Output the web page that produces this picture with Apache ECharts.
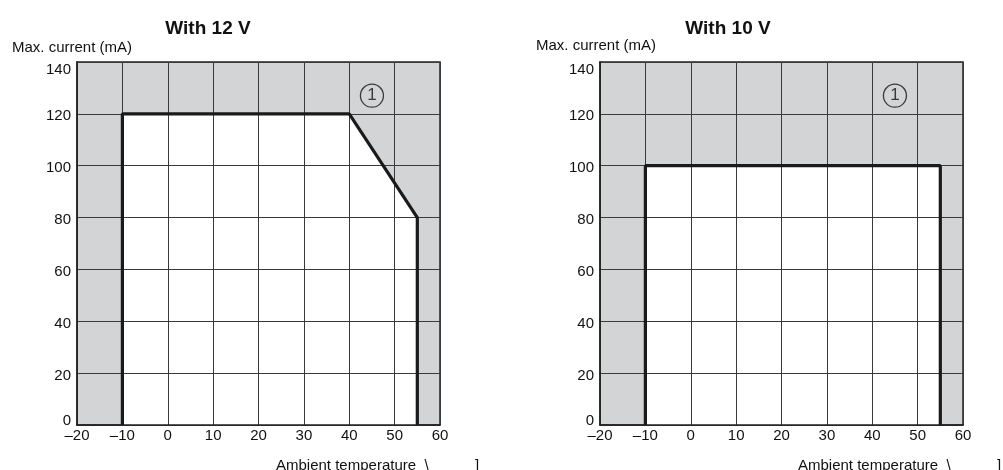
<!DOCTYPE html>
<html>
<head>
<meta charset="utf-8">
<script src="https://cdn.jsdelivr.net/npm/echarts@6/dist/echarts.min.js"></script>
<style>
  html, body { margin: 0; padding: 0; background: #fff; }
  #chart { width: 1003px; height: 470px; }
</style>
</head>
<body>
<div id="chart"></div>
<script>
  // data
  const titles = ['With 12 V', 'With 10 V'];
  const xTicks = [-20, -10, 0, 10, 20, 30, 40, 50, 60];
  const yTicks = [0, 20, 40, 60, 80, 100, 120, 140];
  const curve12 = [[-10, 0], [-10, 120], [40, 120], [55, 80], [55, 0]];
  const curve10 = [[-10, 0], [-10, 100], [55, 100], [55, 0]];
  const marker12 = [[45, 127]];
  const marker10 = [[45, 127]];

  const font = 'Liberation Sans, Arial, sans-serif';
  const gray = '#d3d4d6';
  const gridLine = '#3a3a3a';

  let myChart = echarts.init(document.getElementById('chart'));

  function xAxis(i) {
    return {
      type: 'value', gridIndex: i, min: xTicks[0], max: xTicks[xTicks.length - 1], interval: 10, z: 3,
      axisLine: { show: true, onZero: false, lineStyle: { color: '#222', width: 1.5 } },
      axisTick: { show: false },
      splitLine: { show: true, lineStyle: { color: gridLine, width: 1 } },
      axisLabel: {
        color: '#111', fontSize: 15, fontFamily: font, margin: 3,
        formatter: v => (v < 0 ? '\u2013' + Math.abs(v) : String(v))
      }
    };
  }
  function yAxis(i) {
    return {
      type: 'value', gridIndex: i, min: yTicks[0], max: yTicks[yTicks.length - 1], interval: 20, z: 3,
      axisLine: { show: true, onZero: false, lineStyle: { color: '#222', width: 1.5 } },
      axisTick: { show: false },
      splitLine: { show: true, lineStyle: { color: gridLine, width: 1 } },
      axisLabel: {
        color: '#111', fontSize: 15, fontFamily: font, margin: 6,
        formatter: v => {
          if (v === 140) return '{top|' + v + '}';
          if (v === 0) return '{bot|' + v + '}';
          return '{mid|' + v + '}';
        },
        rich: {
          top: { fontSize: 15, fontFamily: font, color: '#111', padding: [16, 0, 0, 0] },
          mid: { fontSize: 15, fontFamily: font, color: '#111', padding: [5, 0, 0, 0] },
          bot: { fontSize: 15, fontFamily: font, color: '#111', padding: [0, 0, 9, 0] }
        }
      }
    };
  }
  function areaSeries(i, data) {
    return {
      type: 'line', xAxisIndex: i, yAxisIndex: i, data: data, z: 1,
      symbol: 'none', silent: true, animation: false,
      lineStyle: { width: 0 },
      areaStyle: { color: '#fff', opacity: 1 }
    };
  }
  function lineSeries(i, data) {
    return {
      type: 'line', xAxisIndex: i, yAxisIndex: i, data: data, z: 5,
      symbol: 'none', animation: false,
      lineStyle: { color: '#1a1a1a', width: 3.2 }
    };
  }
  function markerSeries(i, data) {
    return {
      type: 'scatter', xAxisIndex: i, yAxisIndex: i, data: data, z: 6,
      symbol: 'circle', symbolSize: 23, animation: false,
      itemStyle: { color: 'rgba(0,0,0,0)', borderColor: '#111', borderWidth: 1.3 },
      label: {
        show: true, position: 'inside', formatter: '1',
        color: '#111', fontSize: 17, fontFamily: font
      }
    };
  }

  const option = {
    backgroundColor: '#fff',
    animation: false,
    title: [
      { text: titles[0], left: 203, top: 14, textAlign: 'center',
        textStyle: { fontSize: 19, fontWeight: 'bold', fontFamily: font, color: '#111' } },
      { text: titles[1], left: 723, top: 14, textAlign: 'center',
        textStyle: { fontSize: 19, fontWeight: 'bold', fontFamily: font, color: '#111' } }
    ],
    grid: [
      { left: 77, top: 62, width: 363, height: 363, show: true,
        backgroundColor: gray, borderColor: '#222', borderWidth: 1.5 },
      { left: 600, top: 62, width: 363, height: 363, show: true,
        backgroundColor: gray, borderColor: '#222', borderWidth: 1.5 }
    ],
    xAxis: [xAxis(0), xAxis(1)],
    yAxis: [yAxis(0), yAxis(1)],
    series: [
      areaSeries(0, curve12), lineSeries(0, curve12), markerSeries(0, marker12),
      areaSeries(1, curve10), lineSeries(1, curve10), markerSeries(1, marker10)
    ],
    graphic: [
      { type: 'text', left: 12, top: 40,
        style: { text: 'Max. current (mA)', fontSize: 15, fontFamily: font, fill: '#111' } },
      { type: 'text', left: 536, top: 38,
        style: { text: 'Max. current (mA)', fontSize: 15, fontFamily: font, fill: '#111' } },
      { type: 'text', left: 276, top: 458,
        style: { text: 'Ambient temperature  \\', fontSize: 15, fontFamily: font, fill: '#111' } },
      { type: 'text', left: 475, top: 458,
        style: { text: ']', fontSize: 15, fontFamily: font, fill: '#111' } },
      { type: 'text', left: 798, top: 458,
        style: { text: 'Ambient temperature  \\', fontSize: 15, fontFamily: font, fill: '#111' } },
      { type: 'text', left: 997, top: 458,
        style: { text: ']', fontSize: 15, fontFamily: font, fill: '#111' } }
    ]
  };
  myChart.setOption(option);
  window.addEventListener('resize', function () {
    myChart.resize();
  });
</script>
</body>
</html>
